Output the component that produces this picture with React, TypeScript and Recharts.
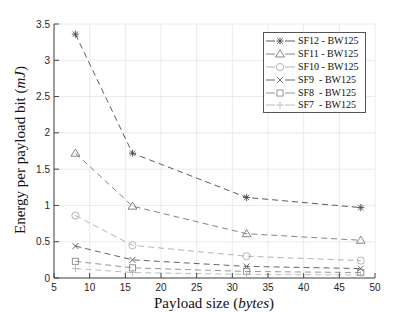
import React from "react";
import { CartesianGrid, Label, Line, LineChart, XAxis, YAxis } from "recharts";

// Payload sizes (bytes) and energy per payload bit (mJ) per spreading factor
const PAYLOAD = [8, 16, 32, 48];
const SF12 = [3.36, 1.72, 1.11, 0.97];
const SF11 = [1.72, 0.99, 0.61, 0.52];
const SF10 = [0.86, 0.45, 0.3, 0.24];
const SF9 = [0.44, 0.25, 0.16, 0.13];
const SF8 = [0.23, 0.14, 0.09, 0.075];
const SF7 = [0.13, 0.075, 0.05, 0.04];
const X_TICKS = [5, 10, 15, 20, 25, 30, 35, 40, 45, 50];
const Y_TICKS = [0, 0.5, 1, 1.5, 2, 2.5, 3, 3.5];

type Marker = "star" | "tri" | "circle" | "x" | "square" | "plus";

const SERIES: { key: string; name: string; color: string; marker: Marker; values: number[] }[] = [
  { key: "sf12", name: "SF12 - BW125", color: "#4a4a4a", marker: "star", values: SF12 },
  { key: "sf11", name: "SF11 - BW125", color: "#767676", marker: "tri", values: SF11 },
  { key: "sf10", name: "SF10 - BW125", color: "#ababab", marker: "circle", values: SF10 },
  { key: "sf9", name: "SF9  - BW125", color: "#555555", marker: "x", values: SF9 },
  { key: "sf8", name: "SF8  - BW125", color: "#8a8a8a", marker: "square", values: SF8 },
  { key: "sf7", name: "SF7  - BW125", color: "#b5b5b5", marker: "plus", values: SF7 },
];

const data = PAYLOAD.map((p, i) => {
  const row: Record<string, number> = { x: p };
  SERIES.forEach((s) => (row[s.key] = s.values[i]));
  return row;
});

const TICK = { fontFamily: "Liberation Sans, Arial, sans-serif", fontSize: 10, fill: "#262626" };
const SERIF = "Liberation Serif, Times New Roman, serif";
const AXIS_COLOR = "#444";

function MarkerShape({ cx, cy, kind, color }: { cx: number; cy: number; kind: Marker; color: string }) {
  const r = 3.6;
  const sw = 0.9;
  switch (kind) {
    case "star":
      return (
        <g stroke={color} strokeWidth={sw}>
          <line x1={cx - r} y1={cy} x2={cx + r} y2={cy} />
          <line x1={cx} y1={cy - r} x2={cx} y2={cy + r} />
          <line x1={cx - r * 0.75} y1={cy - r * 0.75} x2={cx + r * 0.75} y2={cy + r * 0.75} />
          <line x1={cx - r * 0.75} y1={cy + r * 0.75} x2={cx + r * 0.75} y2={cy - r * 0.75} />
        </g>
      );
    case "tri":
      return (
        <polygon
          points={`${cx},${cy - r - 0.5} ${cx - r - 0.8},${cy + r - 0.6} ${cx + r + 0.8},${cy + r - 0.6}`}
          fill="none"
          stroke={color}
          strokeWidth={sw}
        />
      );
    case "circle":
      return <circle cx={cx} cy={cy} r={r} fill="none" stroke={color} strokeWidth={sw} />;
    case "x":
      return (
        <g stroke={color} strokeWidth={sw}>
          <line x1={cx - r * 0.8} y1={cy - r * 0.8} x2={cx + r * 0.8} y2={cy + r * 0.8} />
          <line x1={cx - r * 0.8} y1={cy + r * 0.8} x2={cx + r * 0.8} y2={cy - r * 0.8} />
        </g>
      );
    case "square":
      return (
        <rect x={cx - r * 0.85} y={cy - r * 0.85} width={r * 1.7} height={r * 1.7} fill="none" stroke={color} strokeWidth={sw} />
      );
    default:
      return (
        <g stroke={color} strokeWidth={sw}>
          <line x1={cx - r} y1={cy} x2={cx + r} y2={cy} />
          <line x1={cx} y1={cy - r} x2={cx} y2={cy + r} />
        </g>
      );
  }
}

function LegendBox() {
  return (
    <div
      style={{
        position: "absolute",
        left: 263,
        top: 32,
        width: 103,
        height: 81,
        border: "1px solid #555",
        background: "#fff",
        boxSizing: "border-box",
        padding: "2px 0 0 0",
      }}
    >
      {SERIES.map((s) => (
        <div key={s.key} style={{ display: "flex", alignItems: "center", height: 12.8 }}>
          <svg width={34} height={12} style={{ flex: "none" }}>
            <line x1={2} y1={6} x2={11} y2={6} stroke={s.color} strokeWidth={0.9} />
            <line x1={21} y1={6} x2={31} y2={6} stroke={s.color} strokeWidth={0.9} />
            <MarkerShape cx={16} cy={6} kind={s.marker} color={s.color} />
          </svg>
          <span
            style={{
              fontFamily: SERIF,
              fontSize: 10,
              color: "#111",
              whiteSpace: "pre",
              lineHeight: "12px",
            }}
          >
            {s.name}
          </span>
        </div>
      ))}
    </div>
  );
}

export default function App() {
  return (
    <div style={{ position: "absolute", left: 0, top: 0, width: 415, height: 312, background: "#fff" }}>
      <LineChart width={415} height={312} data={data} margin={{ top: 24, right: 40, bottom: 14, left: 24 }}>
        <CartesianGrid stroke="#e4e4e4" strokeWidth={0.8} />
        <XAxis
          dataKey="x"
          type="number"
          domain={[5, 50]}
          ticks={X_TICKS}
          height={20}
          tick={TICK}
          tickSize={-5}
          tickMargin={11}
          stroke={AXIS_COLOR}
          interval={0}
        >
          <Label
            content={() => (
              <text x={214} y={308} textAnchor="middle" fontFamily={SERIF} fontSize={15} fill="#111">
                Payload size (<tspan fontStyle="italic">bytes</tspan>)
              </text>
            )}
          />
        </XAxis>
        <XAxis
          xAxisId="top"
          orientation="top"
          type="number"
          domain={[5, 50]}
          ticks={X_TICKS}
          height={0}
          tickSize={-5}
          tickFormatter={() => ""}
          stroke={AXIS_COLOR}
          interval={0}
        />
        <YAxis
          type="number"
          domain={[0, 3.5]}
          ticks={Y_TICKS}
          width={30}
          tick={TICK}
          tickSize={-5}
          tickMargin={9}
          stroke={AXIS_COLOR}
          interval={0}
        >
          <Label
            content={() => (
              <text
                x={0}
                y={0}
                transform="translate(25,150) rotate(-90)"
                textAnchor="middle"
                fontFamily={SERIF}
                fontSize={15}
                fill="#111"
              >
                Energy per payload bit (<tspan fontStyle="italic">mJ</tspan>)
              </text>
            )}
          />
        </YAxis>
        <YAxis
          yAxisId="right"
          orientation="right"
          type="number"
          domain={[0, 3.5]}
          ticks={Y_TICKS}
          width={0}
          tickSize={-5}
          tickFormatter={() => ""}
          stroke={AXIS_COLOR}
          interval={0}
        />
        {SERIES.map((s) => (
          <Line
            key={s.key}
            dataKey={s.key}
            name={s.name}
            type="linear"
            stroke={s.color}
            strokeWidth={0.9}
            strokeDasharray="6 4"
            isAnimationActive={false}
            dot={(p: any) => <MarkerShape key={`${s.key}-${p.index}`} cx={p.cx} cy={p.cy} kind={s.marker} color={s.color} />}
            activeDot={false}
          />
        ))}
      </LineChart>
      <LegendBox />
    </div>
  );
}
